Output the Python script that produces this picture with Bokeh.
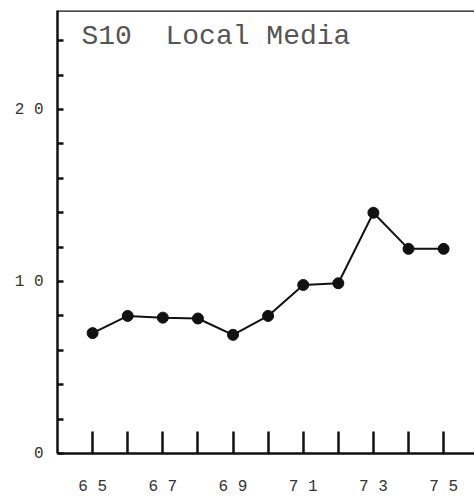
from bokeh.plotting import figure
from bokeh.models import FixedTicker, Label, Span, ColumnDataSource
from bokeh.embed import file_html
from bokeh.resources import INLINE

years = [65, 66, 67, 68, 69, 70, 71, 72, 73, 74, 75]
values = [7.0, 8.0, 7.9, 7.85, 6.9, 8.0, 9.8, 9.9, 14.0, 11.9, 11.9]
x_tick_labels = {65: "6 5", 67: "6 7", 69: "6 9", 71: "7 1", 73: "7 3", 75: "7 5"}
y_tick_labels = {0: "0", 10: "1 0", 20: "2 0"}
title_text = "S10\u00a0\u00a0Local Media"

FONT = "Liberation Mono"
INK = "#111111"
Y_TOP = 25.76

p = figure(width=474, height=501, output_backend="svg", toolbar_location=None,
           x_range=(64.0, 75.88), y_range=(0, Y_TOP),
           min_border_left=57, min_border_right=0, min_border_top=10, min_border_bottom=48)
p.outline_line_color = None
p.grid.grid_line_color = None
p.background_fill_color = "white"

# x axis
xt = list(range(65, 76))
p.xaxis.ticker = FixedTicker(ticks=xt)
p.xaxis.major_label_overrides = {t: x_tick_labels.get(t, "") for t in xt}
p.xaxis.major_tick_in = 22
p.xaxis.major_tick_out = 0
p.xaxis.minor_tick_line_color = None
p.xaxis.major_tick_line_width = 2.5
p.xaxis.axis_line_width = 2.5
p.xaxis.axis_line_color = INK
p.xaxis.major_tick_line_color = INK
p.xaxis.major_label_standoff = 24
p.xaxis.major_label_text_font = FONT
p.xaxis.major_label_text_font_size = "16px"
p.xaxis.major_label_text_color = "#333333"

# y axis
yt = list(range(0, 25, 2))
p.yaxis.ticker = FixedTicker(ticks=yt)
p.yaxis.major_label_overrides = {t: y_tick_labels.get(t, "") for t in yt}
p.yaxis.major_tick_in = 6
p.yaxis.major_tick_out = 0
p.yaxis.minor_tick_line_color = None
p.yaxis.major_tick_line_width = 2.5
p.yaxis.axis_line_width = 2.5
p.yaxis.axis_line_color = INK
p.yaxis.major_tick_line_color = INK
p.yaxis.major_label_standoff = 14
p.yaxis.major_label_text_font = FONT
p.yaxis.major_label_text_font_size = "16px"
p.yaxis.major_label_text_color = "#333333"

# top border
p.add_layout(Span(location=Y_TOP, dimension="width", line_color=INK, line_width=2.5))

src = ColumnDataSource(dict(x=years, y=values))
p.line("x", "y", source=src, line_color=INK, line_width=2)
p.scatter("x", "y", source=src, size=11, color=INK)

p.add_layout(Label(x=24, y=417, x_units="screen", y_units="screen", text=title_text,
                   text_font=FONT, text_font_size="28px", text_color="#555555",
                   text_baseline="alphabetic"))

open("out.html", "w").write(file_html(p, INLINE))
